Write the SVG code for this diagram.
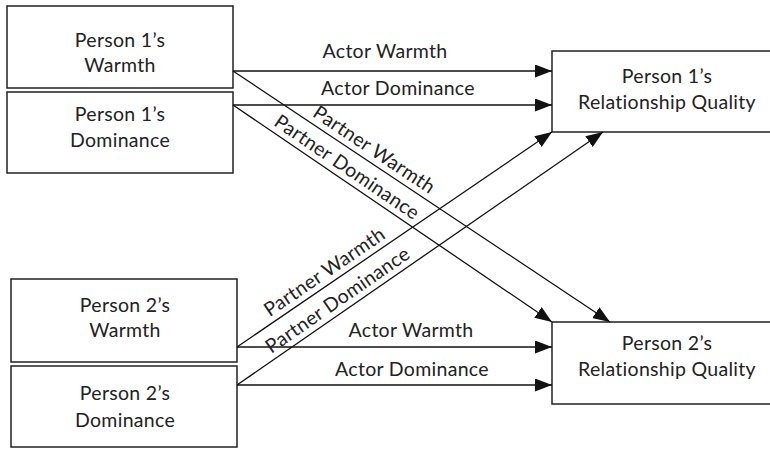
<svg xmlns="http://www.w3.org/2000/svg" width="770" height="449" viewBox="0 0 770 449">
<style>
.box{fill:#fff;stroke:#222;stroke-width:1.5}
.t{font-family:Lato,"Liberation Sans",sans-serif;font-size:19.5px;letter-spacing:0.3px;fill:#222;text-anchor:middle}
.c{stroke:#111;stroke-width:1.3;fill:none;marker-end:url(#ah)}
</style>
<defs>
<marker id="ah" markerUnits="userSpaceOnUse" markerWidth="18" markerHeight="13" refX="17" refY="6.5" orient="auto">
<path d="M0,0 L17,6.5 L0,13 Z" fill="#111"/>
</marker>
</defs>
<rect width="770" height="449" fill="#fff"/>
<g id="p1w"><rect class="box" x="7" y="6" width="226" height="82"/><text class="t" x="120" y="47">Person 1’s</text><text class="t" x="120" y="72">Warmth</text></g>
<g id="p1d"><rect class="box" x="7" y="92" width="226" height="81"/><text class="t" x="120" y="121">Person 1’s</text><text class="t" x="120" y="147">Dominance</text></g>
<g id="p2w"><rect class="box" x="11" y="279" width="226" height="83"/><text class="t" x="125" y="312">Person 2’s</text><text class="t" x="125" y="337">Warmth</text></g>
<g id="p2d"><rect class="box" x="11" y="366" width="226" height="81"/><text class="t" x="125" y="400">Person 2’s</text><text class="t" x="125" y="427">Dominance</text></g>
<g id="rq1"><rect class="box" x="552" y="51" width="230" height="81"/><text class="t" x="667" y="83">Person 1’s</text><text class="t" x="667" y="109">Relationship Quality</text></g>
<g id="rq2"><rect class="box" x="552" y="322" width="230" height="82"/><text class="t" x="667" y="350">Person 2’s</text><text class="t" x="667" y="376">Relationship Quality</text></g>
<g id="connectors">
<line class="c" x1="233" y1="71" x2="552" y2="71"/>
<line class="c" x1="233" y1="105" x2="552" y2="105"/>
<line class="c" x1="233" y1="71" x2="610" y2="322"/>
<line class="c" x1="233" y1="105" x2="552" y2="322"/>
<line class="c" x1="237" y1="347" x2="552" y2="132"/>
<line class="c" x1="237" y1="385" x2="603" y2="132"/>
<line class="c" x1="237" y1="347" x2="552" y2="347"/>
<line class="c" x1="237" y1="385" x2="552" y2="385"/>
<text class="t" x="385" y="58">Actor Warmth</text>
<text class="t" x="398" y="95">Actor Dominance</text>
<text class="t" transform="translate(370.5,155.1) rotate(33.66)">Partner Warmth</text>
<text class="t" transform="translate(343.2,172.6) rotate(34.2)">Partner Dominance</text>
<text class="t" transform="translate(328.2,277.4) rotate(-34.3)">Partner Warmth</text>
<text class="t" transform="translate(341.4,305.4) rotate(-34.7)">Partner Dominance</text>
<text class="t" x="411" y="337">Actor Warmth</text>
<text class="t" x="412" y="376">Actor Dominance</text>
</g>
</svg>
